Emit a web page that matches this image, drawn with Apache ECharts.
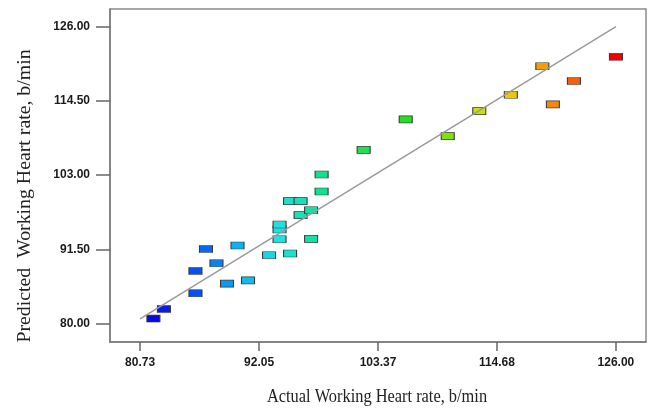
<!DOCTYPE html>
<html>
<head>
<meta charset="utf-8">
<script src="https://cdn.jsdelivr.net/npm/echarts@6/dist/echarts.min.js"></script>
<style>
html,body{margin:0;padding:0;background:#fff;}
#chart{width:652px;height:409px;}
</style>
</head>
<body>
<div id="chart"></div>
<script>
// Actual vs predicted working heart rate (b/min)
const actualValues = [82, 83, 86, 86, 87, 88, 90, 89, 91, 93, 95, 94, 94, 94, 95, 96, 96, 97, 97, 98, 98, 102, 106, 110, 113, 116, 119, 120, 122, 126];
const predictedValues = [80.78, 82.26, 84.7, 88.16, 91.57, 89.35, 92.1, 86.2, 86.7, 90.6, 90.86, 93.07, 94.58, 95.35, 98.97, 98.97, 96.8, 97.57, 93.12, 100.47, 103.1, 106.92, 111.64, 109.05, 112.92, 115.45, 119.86, 113.96, 117.58, 121.35];
const xTickValues = [80.73, 92.05, 103.37, 114.68, 126.00];
const yTickValues = [80.00, 91.50, 103.00, 114.50, 126.00];
const fitLine = [[80.73, 80.73], [126.00, 126.00]];
const colorStops = ['#0a0ae0', '#0850f0', '#10b0f0', '#20e0e0', '#10e090', '#20e050', '#20e020', '#80e010', '#e0e000', '#f8b000', '#f06010', '#f00000'];

const points = actualValues.map((a, i) => [a, predictedValues[i]]);

const chart = echarts.init(document.getElementById('chart'), null, {renderer: 'canvas'});
chart.setOption({
  animation: false,
  backgroundColor: '#fff',
  grid: {left: 110, top: 9, right: 6, bottom: 67, show: true, borderColor: '#8a8a8a', borderWidth: 1.5, containLabel: false},
  xAxis: {
    type: 'value', min: 77.87, max: 128.86,
    axisLine: {show: true, onZero: false, lineStyle: {color: '#7a7a7a', width: 1.5}},
    axisTick: {show: true, inside: false, length: 9, customValues: xTickValues, lineStyle: {color: '#666', width: 1.5}},
    axisLabel: {customValues: xTickValues, formatter: v => v.toFixed(2), margin: 15, color: '#1a1a1a', fontFamily: 'Liberation Sans', fontWeight: 'bold', fontSize: 12},
    splitLine: {show: false}
  },
  yAxis: {
    type: 'value', min: 77.15, max: 128.74,
    axisLine: {show: true, onZero: false, lineStyle: {color: '#7a7a7a', width: 1.5}},
    axisTick: {show: true, inside: false, length: 14, customValues: yTickValues, lineStyle: {color: '#666', width: 1.5}},
    axisLabel: {customValues: yTickValues, formatter: v => v.toFixed(2), margin: 20, color: '#1a1a1a', fontFamily: 'Liberation Sans', fontWeight: 'bold', fontSize: 12},
    splitLine: {show: false}
  },
  visualMap: {
    show: false, type: 'continuous', seriesIndex: 0, dimension: 0,
    min: 82, max: 126, inRange: {color: colorStops}
  },
  graphic: [
    {type: 'text', x: 377, y: 397, scaleX: 0.91, style: {text: 'Actual Working Heart rate, b/min', font: '18px "Liberation Serif"', fill: '#222', align: 'center', verticalAlign: 'middle'}},
    {type: 'text', x: 25, y: 196, rotation: Math.PI / 2, scaleX: 1.1, style: {text: 'Predicted  Working Heart rate, b/min', font: '18px "Liberation Serif"', fill: '#222', align: 'center', verticalAlign: 'middle'}}
  ],
  series: [
    {
      type: 'scatter', data: points, symbol: 'rect', symbolSize: [13, 7],
      itemStyle: {borderColor: '#3a3a3a', borderWidth: 0.8, opacity: 1}, z: 3
    },
    {
      type: 'line', data: fitLine, symbol: 'none', silent: true,
      lineStyle: {color: '#9a9a9a', width: 1.5}, z: 4
    }
  ]
});
</script>
</body>
</html>
